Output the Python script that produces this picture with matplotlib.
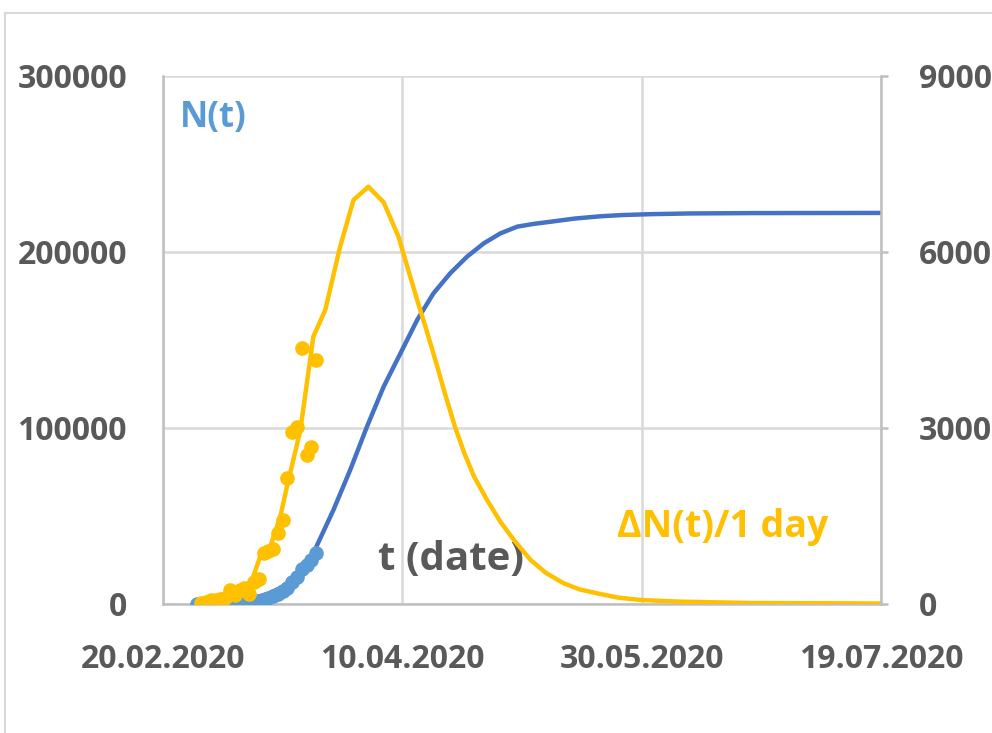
import pandas as pd
import matplotlib
matplotlib.use("Agg")
import matplotlib.pyplot as plt
import matplotlib.dates as mdates
from matplotlib.lines import Line2D

# day offsets from 20.02.2020
start = pd.Timestamp("2020-02-20")

# N(t) measured (cumulative cases)
n_data_days = [7, 8, 9, 10, 11, 12, 13, 14, 15, 16, 17, 18, 19, 20, 21, 22,
               23, 24, 25, 26, 27, 28, 29, 30, 31, 32]
n_data_vals = [50, 60, 80, 130, 160, 200, 260, 480, 670, 800, 1040, 1180, 1460,
               1910, 2080, 3680, 4590, 5800, 7270, 9260, 12300, 15300, 19800,
               22200, 24900, 29100]

# N(t) model curve
n_model_days = [7, 10, 13, 16, 19, 22, 25, 28, 31.4, 35.6, 39.1, 42.6, 46.1,
                49.6, 53.1, 56.5, 60.0, 63.5, 67.0, 70.5, 74.0, 77.5, 81.0,
                86.0, 91.4, 96.0, 101.9, 110.0, 122.8, 150.0]
n_model_vals = [500, 800, 1300, 2100, 3500, 5800, 9700, 16000, 28800, 53400,
                76100, 100700, 123500, 142400, 161400, 176500, 187900, 197300,
                204900, 210600, 214400, 216000, 217200, 219000, 220300, 221000,
                221500, 221900, 222100, 222200]

# dN(t)/1 day measured
dn_data_days = [8, 9, 10, 11, 12, 13, 14, 15, 16, 17, 18, 19, 20, 21, 22, 23,
                24, 25, 26, 27, 28, 29, 30, 31, 32]
dn_data_vals = [12, 40, 68, 68, 80, 97, 239, 150, 239, 268, 170, 380, 420, 864,
                900, 930, 1205, 1432, 2142, 2937, 3022, 4364, 2540, 2681, 4159]

# dN(t)/1 day model curve
dn_model_days = [7.7, 9.1, 12.6, 16.1, 18.6, 20.3, 22.4, 24.5, 25.9, 28.7, 31.4,
                 33.9, 37.0, 39.8, 42.9, 46.1, 49.2, 51.0, 53.1, 55.0, 57.0,
                 59.0, 61.0, 63.0, 65.0, 67.7, 70.5, 73.3, 76.8, 80.0, 83.7,
                 87.0, 90.7, 95.0, 99.8, 108.2, 122.8, 150.0]
dn_model_vals = [40, 68, 153, 239, 409, 806, 977, 1488, 2000, 2966, 4556, 5011,
                 6090, 6886, 7113, 6847, 6261, 5760, 5182, 4680, 4130, 3560,
                 3020, 2560, 2170, 1773, 1400, 1091, 750, 530, 353, 250, 182,
                 110, 68, 40, 17, 8]

tick_days = [0, 50, 100, 150]


def to_dates(days):
    return [start + pd.Timedelta(days=d) for d in days]


grey_txt = "#595959"
grid_c = "#D9D9D9"
yellow = "#FFC000"
blue_line = "#4472C4"
blue_dot = "#5B9BD5"

plt.rcParams["font.family"] = ["Open Sans", "DejaVu Sans"]
plt.rcParams["font.weight"] = "bold"

fig = plt.figure(figsize=(9.92, 7.33), dpi=100)
ax = fig.add_axes([163 / 992, 129 / 733, 718 / 992, 528 / 733])
ax2 = ax.twinx()

ax.plot(to_dates(n_model_days), n_model_vals, color=blue_line, lw=3.2, zorder=2)
ax.plot(to_dates(n_data_days), n_data_vals, "o", color=blue_dot, ms=9.5, zorder=3)

ax2.plot(to_dates(dn_model_days), dn_model_vals, color=yellow, lw=3.2, zorder=2)
ax2.plot(to_dates(dn_data_days), dn_data_vals, "o", color=yellow, ms=9.5, zorder=3)

ax.set_xlim(start, start + pd.Timedelta(days=150))
ax.set_ylim(0, 300000)
ax2.set_ylim(0, 9000)
ax.set_yticks([0, 100000, 200000, 300000])
ax2.set_yticks([0, 3000, 6000, 9000])
ax.set_xticks(to_dates(tick_days))
ax.xaxis.set_major_formatter(mdates.DateFormatter("%d.%m.%Y"))

ax.grid(True, color=grid_c, lw=1.8)
ax.set_axisbelow(True)
for a in (ax, ax2):
    for s in a.spines.values():
        s.set_visible(False)
ax.spines["bottom"].set_visible(True)
ax.spines["bottom"].set_color("#BFBFBF")
ax.spines["bottom"].set_linewidth(1.8)
ax.spines["left"].set_visible(True)
ax.spines["left"].set_color("#BFBFBF")
ax.spines["left"].set_linewidth(1.8)
ax2.spines["right"].set_visible(True)
ax2.spines["right"].set_color("#BFBFBF")
ax2.spines["right"].set_linewidth(1.8)

ax.tick_params(axis="both", length=0, labelsize=23, labelcolor=grey_txt)
ax.tick_params(axis="y", pad=26)
ax.tick_params(axis="x", pad=28)
ax2.tick_params(axis="y", length=5, width=1.8, color="#BFBFBF", labelsize=23,
                labelcolor=grey_txt, pad=22)

ax.text(0.024, 0.92, "N(t)", transform=ax.transAxes, color=blue_dot,
        fontsize=25, fontweight="bold", va="center", ha="left")
ax.text(0.299, 0.085, "t (date)", transform=ax.transAxes, color=grey_txt,
        fontsize=29, fontweight="bold", va="center", ha="left", zorder=5)
ax.text(0.632, 0.146, "ΔN(t)/1 day", transform=ax.transAxes, color=yellow,
        fontsize=27, fontweight="bold", va="center", ha="left")

# outer chart frame (partly cut off)
fig.add_artist(Line2D([5 / 992, 5 / 992], [0, 1 - 13 / 733], color=grid_c, lw=1.5))
fig.add_artist(Line2D([5 / 992, 1], [1 - 13 / 733, 1 - 13 / 733], color=grid_c, lw=1.5))

fig.savefig("out.png", dpi=100)
